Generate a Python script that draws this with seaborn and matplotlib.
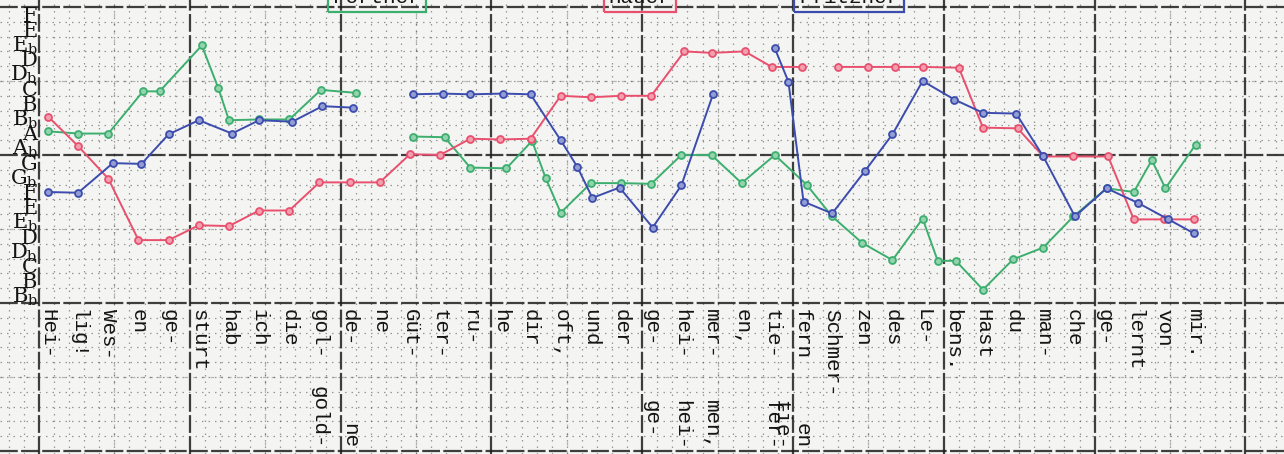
import numpy as np
import pandas as pd
import matplotlib
matplotlib.use("Agg")
import matplotlib.pyplot as plt
import matplotlib.colors as mcolors
from matplotlib.ticker import MultipleLocator
import seaborn as sns

# ---------------- data ----------------
words = ["Hei-", "lig!", "Wes-", "en", "ge-", "stürt", "hab", "ich", "die", "gol-",
         "de-", "ne", "Güt-", "ter-", "ru-", "he", "dir", "oft,", "und", "der",
         "ge-", "hei-", "mer-", "en,", "tie-", "fern", "Schmer-", "zen", "des", "Le-",
         "bens.", "Hast", "du", "man-", "che", "ge-", "lernt", "von", "mir."]
second_idx = [9, 10, 20, 21, 22, 24, 24, 25]
second_txt = ["gold-", "ne", "ge-", "hei-", "men,", "fer-", "tie-", "en"]

note_labels = ["Bb", "B", "C", "Db", "D", "Eb", "E", "F", "Gb", "G",
               "Ab", "A", "Bb", "B", "C", "Db", "D", "Eb", "E", "F"]

composers = ["Fortner", "Hauer", "Pfitzner"]
colors = ["#3caf6e", "#e8506e", "#3b4cae"]

nan = np.nan
green_x = [0, 1, 2, 3.15, 3.7, 5.1, 5.65, 6, 7, 8, 9.05, 10.2, nan,
           12.1, 13.15, 14, 15.2, 16.05, 16.5, 17, 18, 19, 20, 21, 22, 23, 24.1, 25.15,
           26, 27, 28, 29, 29.5, 30.1, 31, 32, 33, 34, 35.1, 36, 36.6, 37.05, 38.05]
green_y = [11.6, 11.45, 11.45, 14.3, 14.3, 17.4, 14.5, 12.35, 12.4, 12.4, 14.4, 14.2, nan,
           11.25, 11.2, 9.15, 9.1, 10.95, 8.45, 6.1, 8.1, 8.1, 8.05, 10.0, 10.0, 8.1, 10.0, 8.0,
           5.85, 4.05, 2.9, 5.7, 2.85, 2.85, 0.9, 2.95, 3.75, 5.85, 7.75, 7.5, 9.65, 7.75, 10.7]

red_x = [0, 1, 2, 3, 4, 5, 6, 7, 8, 9, 10, 11, 12, 13, 14, 15, 16, 17, 18, 19, 20,
         21.1, 22, 23.1, 24, 25, nan,
         26.2, 27.2, 28.1, 29, 30.2, 31, 32.15, 33, 34, 35.15, 36, 37, 38]
red_y = [12.6, 10.6, 8.4, 4.25, 4.25, 5.25, 5.2, 6.25, 6.25, 8.15, 8.15, 8.15, 10.05, 10.0,
         11.1, 11.05, 11.1, 14.0, 13.9, 14.0, 14.0, 17.0, 16.9, 17.0, 15.95, 15.95, nan,
         15.95, 15.95, 15.95, 15.95, 15.9, 11.85, 11.8, 9.9, 9.9, 9.9, 5.65, 5.65, 5.65]

blue_x = [0, 1, 2.15, 3.1, 4, 5, 6.1, 7, 8.1, 9.1, 10.1, nan,
          12.1, 13.1, 14, 15.1, 16, 17, 17.55, 18.05, 18.95, 20.05, 21, 22.05, nan,
          24.1, 24.55, 25.05, 26, 27.1, 28, 29, 30.05, 31, 32.1, 33, 34.05, 35.1, 36.15, 37.15, 38]
blue_y = [7.5, 7.45, 9.45, 9.4, 11.4, 12.35, 11.45, 12.35, 12.25, 13.3, 13.2, nan,
          14.1, 14.15, 14.1, 14.15, 14.1, 11.0, 9.2, 7.1, 7.8, 5.1, 7.95, 14.1, nan,
          17.2, 14.95, 6.85, 6.05, 8.95, 11.4, 15.0, 13.75, 12.85, 12.8, 9.9, 5.85, 7.75,
          6.75, 5.65, 4.7]


def to_frame(name, xs, ys):
    xs = np.asarray(xs, float)
    ys = np.asarray(ys, float)
    seg = np.cumsum(np.isnan(xs))
    keep = ~np.isnan(xs)
    return pd.DataFrame({"composer": name, "pos": xs[keep], "pitch": ys[keep],
                         "seg": [f"{name}-{s}" for s in seg[keep]]})


df = pd.concat([to_frame("Fortner", green_x, green_y),
                to_frame("Hauer", red_x, red_y),
                to_frame("Pfitzner", blue_x, blue_y)], ignore_index=True)

# ---------------- layout ----------------
sns.set_theme(style="white")
plt.rcParams["mathtext.fontset"] = "dejavuserif"
plt.rcParams["font.family"] = ["DejaVu Serif"]

W, H = 1284, 454
paper = "#f4f4f2"
fig = plt.figure(figsize=(W / 100, H / 100), dpi=100)
fig.patch.set_facecolor(paper)

X0PX, XSTEP = 48.0, 30.16
YREF_PX, YREF_P, YSTEP = 155.0, 10.0, 14.8


def px2x(px):
    return (px - X0PX) / XSTEP


def py2p(py):
    return YREF_P + (YREF_PX - py) / YSTEP


# graph-paper background
bg = fig.add_axes([0, 0, 1, 1], zorder=0)
bg.set_facecolor(paper)
bg.set_xlim(px2x(0), px2x(W))
bg.set_ylim(py2p(H), py2p(0))
xoff = px2x(39)
bg.xaxis.set_major_locator(MultipleLocator(5, offset=xoff))
bg.xaxis.set_minor_locator(MultipleLocator(0.5, offset=xoff))
bg.yaxis.set_major_locator(MultipleLocator(10))
bg.yaxis.set_minor_locator(MultipleLocator(1))
bg.grid(which="minor", color="#3a3a3a", lw=0.9, ls=(0, (1.2, 4)), alpha=0.5)
bg.grid(which="major", color="#1e1e1e", lw=1.6, ls=(0, (8, 1.5)), alpha=0.85)
for v in np.arange(xoff + 2.5, px2x(W), 5):
    bg.axvline(v, color="#2a2a2a", lw=0.9, ls=(0, (3, 4)), alpha=0.3, zorder=0)
for h in [-5, 5, 15]:
    bg.axhline(h, color="#2a2a2a", lw=0.9, ls=(0, (3, 4)), alpha=0.3, zorder=0)
bg.tick_params(which="both", length=0, labelbottom=False, labelleft=False)
for s in bg.spines.values():
    s.set_visible(False)

# main plot
ax = fig.add_axes([39 / W, (H - 303) / H, 1 - 39 / W, 303 / H], zorder=2)
ax.patch.set_alpha(0)
sns.lineplot(data=df, x="pos", y="pitch", hue="composer", units="seg", estimator=None,
             sort=False, palette=dict(zip(composers, colors)), marker="o",
             lw=1.4, legend=False, ax=ax)
for ln in ax.lines:
    c = ln.get_color()
    rgb = np.array(mcolors.to_rgb(c))
    ln.set_markeredgecolor(c)
    ln.set_markerfacecolor(tuple(rgb + (1 - rgb) * 0.45))
    ln.set_markersize(5)
    ln.set_markeredgewidth(1.3)

ax.set_xlim(px2x(39), px2x(W))
ax.set_ylim(py2p(303), py2p(0))
ax.set_xlabel("")
ax.set_ylabel("")
for s in ax.spines.values():
    s.set_visible(False)

ax.set_xticks(range(len(words)))
ax.set_xticklabels(words, rotation=-90, fontsize=15, fontfamily="Liberation Mono",
                   color="#151515")
ax.tick_params(axis="x", length=0, pad=4)

ylab = [n[0] + (r"$_{\mathrm{b}}$" if len(n) > 1 else "") for n in note_labels]
ax.set_yticks(range(len(note_labels)))
ax.set_yticklabels(ylab, fontsize=15, color="#151515")
ax.tick_params(axis="y", length=0, pad=1)
for t in ax.get_yticklabels():
    t.set_va("baseline")

# second line of text
tr = ax.get_xaxis_transform()
for k, (i, txt) in enumerate(zip(second_idx, second_txt)):
    dx = 0.3 if (k > 0 and second_idx[k - 1] == i) else 0.0
    if txt in ("ne", "en"):
        top_px = 423
    elif txt == "gold-":
        top_px = 386
    else:
        top_px = 400
    ax.text(i + dx, (303 - top_px) / 303, txt, transform=tr, rotation=-90,
            ha="center", va="top", fontsize=15, fontfamily="Liberation Mono",
            color="#151515", clip_on=False)

# clipped name boxes at the top
for name, c, xpx in zip(composers, colors, [377, 640, 849]):
    fig.text(xpx / W, 1 - 3 / H, name, ha="center", va="baseline", fontsize=15,
             fontfamily="Liberation Mono", color="#151515",
             bbox=dict(boxstyle="square,pad=0.25", fc="none", ec=c, lw=1.6))

fig.savefig("out.png", dpi=100, facecolor=paper)
